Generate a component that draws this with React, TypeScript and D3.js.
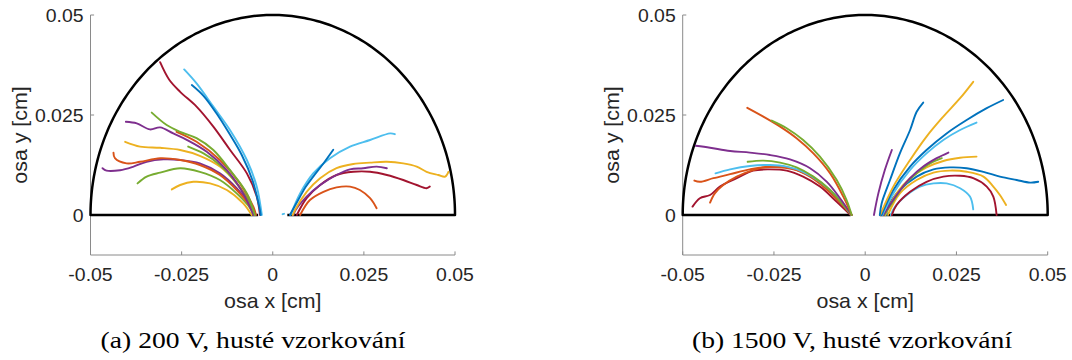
import React from "react";
import * as d3 from "d3";

type Pt = [number, number];

// ---- tick labels ----
const X_TICKS = [-0.05, -0.025, 0, 0.025, 0.05];
const X_TICK_LABELS = ["-0.05", "-0.025", "0", "0.025", "0.05"];
const Y_TICKS = [0, 0.025, 0.05];
const Y_TICK_LABELS = ["0", "0.025", "0.05"];
const X_LABEL = "osa x [cm]";
const Y_LABEL = "osa y [cm]";
const CAPTIONS = ["(a) 200 V, husté vzorkování", "(b) 1500 V, husté vzorkování"];
const RADIUS = 0.05;
const GAP = 0.004;

// ---- panel (a) trajectories ----
const aRed1: Pt[] = [[-0.0309,0.0382],[-0.0284,0.0338],[-0.0254,0.0308],[-0.0209,0.0271],[-0.0163,0.0221],[-0.0117,0.01625],[-0.0071,0.0104],[-0.0044,0.0046],[-0.0035,0]];
const aCyan1: Pt[] = [[-0.0243,0.0364],[-0.0209,0.0329],[-0.0163,0.0271],[-0.0117,0.0212],[-0.0071,0.01375],[-0.0044,0.0071],[-0.003,0]];
const aBlue1: Pt[] = [[-0.0222,0.0325],[-0.019,0.0298],[-0.0155,0.0255],[-0.012,0.0205],[-0.0085,0.015],[-0.0055,0.0085],[-0.0038,0.0025],[-0.0033,0]];
const aGreen1: Pt[] = [[-0.0332,0.0256],[-0.0291,0.0225],[-0.0254,0.0208],[-0.0209,0.0192],[-0.0163,0.01625],[-0.0117,0.0112],[-0.0071,0.0054],[-0.0049,0]];
const aPurple1: Pt[] = [[-0.0403,0.0233],[-0.0373,0.0229],[-0.0337,0.0214],[-0.0309,0.0219],[-0.0273,0.0204],[-0.0236,0.0188],[-0.0181,0.0158],[-0.0126,0.0112],[-0.0081,0.0054],[-0.0053,0]];
const aOrange1: Pt[] = [[-0.0264,0.0208],[-0.0209,0.0183],[-0.0145,0.01375],[-0.009,0.0079],[-0.0053,0.002],[-0.0046,0]];
const aGreen2: Pt[] = [[-0.0232,0.0171],[-0.019,0.0154],[-0.0145,0.0125],[-0.0099,0.0079],[-0.0062,0.0029],[-0.0049,0]];
const aYellow1: Pt[] = [[-0.0405,0.0183],[-0.0364,0.0171],[-0.0309,0.0168],[-0.0254,0.01625],[-0.02,0.0148],[-0.0145,0.0121],[-0.0099,0.0079],[-0.0062,0.0029],[-0.0053,0]];
const aOrange2: Pt[] = [[-0.0437,0.0156],[-0.0433,0.0142],[-0.0401,0.0129],[-0.0364,0.0133],[-0.0309,0.0142],[-0.0254,0.01375],[-0.02,0.0125],[-0.0145,0.01],[-0.0099,0.00625],[-0.0062,0.0022],[-0.005,0]];
const aPurple2: Pt[] = [[-0.0467,0.0117],[-0.0456,0.0111],[-0.0419,0.0112],[-0.0382,0.0121],[-0.0346,0.0133],[-0.03,0.0139],[-0.0254,0.01375],[-0.02,0.0129],[-0.0145,0.0104],[-0.0099,0.0067],[-0.0062,0.0025],[-0.0047,0]];
const aGreen3: Pt[] = [[-0.0371,0.0079],[-0.0346,0.0096],[-0.0309,0.0106],[-0.0254,0.0117],[-0.02,0.0108],[-0.0145,0.00875],[-0.0099,0.0054],[-0.0062,0.0017],[-0.0053,0]];
const aYellow2: Pt[] = [[-0.0277,0.0064],[-0.0254,0.0075],[-0.0218,0.0083],[-0.0172,0.0079],[-0.0126,0.00625],[-0.0081,0.0029],[-0.0058,0]];
const aBlue2: Pt[] = [[0.0166,0.0163],[0.014,0.013],[0.0111,0.0096],[0.009,0.007],[0.0075,0.0046],[0.0047,0]];
const aCyan2: Pt[] = [[0.0335,0.0202],[0.0322,0.0204],[0.0267,0.01875],[0.0212,0.0171],[0.0157,0.0142],[0.0111,0.0104],[0.0075,0.0054],[0.0049,0]];
const aCyanDot: Pt[] = [[0.0027,0.0002],[0.0031,0.0003]];
const aYellow3: Pt[] = [[0.0482,0.0108],[0.0473,0.0096],[0.0454,0.01],[0.0422,0.0108],[0.0395,0.0121],[0.0358,0.0129],[0.0313,0.0133],[0.0267,0.0131],[0.0221,0.01275],[0.0175,0.0117],[0.013,0.0092],[0.0093,0.0058],[0.0061,0.00125],[0.0055,0]];
const aPurple3: Pt[] = [[0.0313,0.0117],[0.0285,0.0121],[0.0248,0.0117],[0.0212,0.0114],[0.0175,0.01],[0.013,0.0075],[0.0093,0.0046],[0.0061,0.001],[0.0057,0]];
const aRed2: Pt[] = [[0.0431,0.0071],[0.0422,0.0067],[0.0395,0.0075],[0.0358,0.00875],[0.0313,0.01],[0.0267,0.0108],[0.0221,0.0108],[0.0175,0.01],[0.013,0.0075],[0.0093,0.0042],[0.0066,0]];
const aOrange3: Pt[] = [[0.0285,0.0017],[0.0267,0.0042],[0.0239,0.00625],[0.0212,0.0071],[0.0175,0.0069],[0.0139,0.0058],[0.0102,0.00375],[0.0075,0]];

// ---- panel (b) trajectories ----
const bOrange1: Pt[] = [[-0.0323,0.0268],[-0.0279,0.0246],[-0.0233,0.0221],[-0.0188,0.0192],[-0.0142,0.0154],[-0.0096,0.0104],[-0.006,0.0046],[-0.0037,0]];
const bGreen1: Pt[] = [[-0.0256,0.0236],[-0.0215,0.0217],[-0.017,0.01875],[-0.0124,0.0146],[-0.0078,0.00875],[-0.0051,0.00375],[-0.0037,0]];
const bPurple1: Pt[] = [[-0.0464,0.0173],[-0.0425,0.0168],[-0.037,0.016],[-0.0316,0.0156],[-0.0261,0.015],[-0.0206,0.0139],[-0.0151,0.0117],[-0.0105,0.0083],[-0.0069,0.0042],[-0.0037,0]];
const bGreen2: Pt[] = [[-0.0322,0.0133],[-0.0279,0.0136],[-0.0233,0.0131],[-0.0188,0.0119],[-0.0142,0.0096],[-0.0096,0.00625],[-0.006,0.0025],[-0.0038,0]];
const bCyan1: Pt[] = [[-0.041,0.0104],[-0.037,0.0114],[-0.0316,0.01225],[-0.0261,0.0125],[-0.0215,0.0121],[-0.017,0.0108],[-0.0124,0.0083],[-0.0078,0.0046],[-0.0038,0]];
const bOrange2: Pt[] = [[-0.0468,0.0086],[-0.0453,0.0083],[-0.0416,0.0092],[-0.037,0.0102],[-0.0316,0.0114],[-0.0261,0.012],[-0.0188,0.01125],[-0.0133,0.00875],[-0.0078,0.0042],[-0.0038,0]];
const bOrange3: Pt[] = [[-0.0425,0.0031],[-0.0412,0.0054],[-0.0389,0.0075],[-0.0352,0.0096],[-0.0307,0.0112],[-0.0261,0.0122],[-0.0206,0.0118],[-0.015,0.0095],[-0.0095,0.0055],[-0.0037,0]];
const bRed1: Pt[] = [[-0.0473,0.0021],[-0.0453,0.0042],[-0.0425,0.005],[-0.0398,0.0071],[-0.0352,0.0092],[-0.0307,0.0111],[-0.0261,0.0114],[-0.0215,0.0111],[-0.017,0.0096],[-0.0124,0.0071],[-0.0078,0.0033],[-0.004,0]];
const bPurple2: Pt[] = [[0.0073,0.01625],[0.0054,0.0113],[0.0036,0.0054],[0.0024,0]];
const bBlue1: Pt[] = [[0.0159,0.0281],[0.0141,0.0258],[0.0123,0.02125],[0.0095,0.0154],[0.0068,0.00875],[0.0045,0.0029],[0.004,0]];
const bYellow1: Pt[] = [[0.0296,0.0333],[0.026,0.0292],[0.0214,0.0246],[0.0168,0.0196],[0.0123,0.01375],[0.0077,0.0071],[0.0041,0]];
const bBlue2: Pt[] = [[0.0378,0.02875],[0.0333,0.0267],[0.0278,0.02375],[0.0223,0.0204],[0.0168,0.01625],[0.0123,0.0121],[0.0077,0.00625],[0.0045,0]];
const bCyan2: Pt[] = [[0.0305,0.0231],[0.026,0.02125],[0.0214,0.01875],[0.0168,0.0154],[0.0123,0.01125],[0.0077,0.0054],[0.0047,0]];
const bPurple3: Pt[] = [[0.0228,0.0156],[0.0196,0.0142],[0.0159,0.0121],[0.0123,0.0092],[0.0086,0.005],[0.005,0]];
const bGreen3: Pt[] = [[0.021,0.0142],[0.0178,0.0129],[0.0141,0.0104],[0.0104,0.0071],[0.0073,0.0029],[0.0052,0]];
const bYellow2: Pt[] = [[0.0305,0.0146],[0.026,0.0143],[0.0214,0.0135],[0.0168,0.0119],[0.0123,0.0092],[0.0086,0.0054],[0.0055,0]];
const bBlue3: Pt[] = [[0.0474,0.0083],[0.0452,0.0081],[0.0415,0.00875],[0.0369,0.0096],[0.0324,0.0108],[0.0278,0.0117],[0.0232,0.0119],[0.0187,0.0114],[0.0141,0.0096],[0.0095,0.00625],[0.0063,0.0021],[0.0058,0]];
const bYellow3: Pt[] = [[0.0386,0.0025],[0.0369,0.005],[0.0351,0.0071],[0.0324,0.0096],[0.0278,0.0108],[0.0232,0.0111],[0.0187,0.0106],[0.0141,0.00875],[0.0095,0.0054],[0.0062,0]];
const bRed2: Pt[] = [[0.036,0],[0.0351,0.0046],[0.0333,0.0071],[0.0296,0.0092],[0.026,0.0098],[0.0214,0.0096],[0.0168,0.0083],[0.0123,0.0058],[0.0086,0.0025],[0.0073,0]];
const bCyan3: Pt[] = [[0.0296,0.0014],[0.0287,0.0046],[0.026,0.0067],[0.0223,0.0079],[0.0187,0.0079],[0.015,0.0071],[0.0114,0.005],[0.0082,0.0021],[0.007,0]];

const C = {
  blue: "#0072BD", orange: "#D95319", yellow: "#EDB120", purple: "#7E2F8E",
  green: "#77AC30", cyan: "#4DBEEE", red: "#A2142F",
};

const SERIES_A: { pts: Pt[]; color: string }[] = [
  { pts: aYellow2, color: C.yellow }, { pts: aGreen3, color: C.green },
  { pts: aPurple2, color: C.purple }, { pts: aOrange2, color: C.orange },
  { pts: aYellow1, color: C.yellow }, { pts: aGreen2, color: C.green },
  { pts: aOrange1, color: C.orange }, { pts: aPurple1, color: C.purple },
  { pts: aGreen1, color: C.green }, { pts: aRed1, color: C.red },
  { pts: aCyan1, color: C.cyan }, { pts: aBlue1, color: C.blue },
  { pts: aOrange3, color: C.orange }, { pts: aRed2, color: C.red },
  { pts: aPurple3, color: C.purple }, { pts: aYellow3, color: C.yellow },
  { pts: aCyan2, color: C.cyan }, { pts: aBlue2, color: C.blue },
  { pts: aCyanDot, color: C.cyan },
];
const SERIES_B: { pts: Pt[]; color: string }[] = [
  { pts: bRed1, color: C.red }, { pts: bOrange3, color: C.orange },
  { pts: bOrange2, color: C.orange }, { pts: bCyan1, color: C.cyan },
  { pts: bGreen2, color: C.green }, { pts: bPurple1, color: C.purple },
  { pts: bOrange1, color: C.orange }, { pts: bGreen1, color: C.green },
  { pts: bCyan3, color: C.cyan }, { pts: bRed2, color: C.red },
  { pts: bYellow3, color: C.yellow }, { pts: bBlue3, color: C.blue },
  { pts: bYellow2, color: C.yellow }, { pts: bGreen3, color: C.green },
  { pts: bPurple3, color: C.purple }, { pts: bCyan2, color: C.cyan },
  { pts: bBlue2, color: C.blue }, { pts: bYellow1, color: C.yellow },
  { pts: bBlue1, color: C.blue }, { pts: bPurple2, color: C.purple },
];

const PANELS = [
  { x0: 90.5, x1: 455, capX: 253, series: SERIES_A, caption: CAPTIONS[0] },
  { x0: 682.7, x1: 1047.7, capX: 852, series: SERIES_B, caption: CAPTIONS[1] },
];

const Y_TOP = 15;
const Y_BOT = 255;
const SANS = "'Liberation Sans', Arial, Helvetica, sans-serif";
const SERIF = "'Liberation Serif', serif";
const AXIS_COLOR = "#8a8a8a";
const TEXT_COLOR = "#262626";
const FS = 18;
const LABEL_FS = 19.8;
const SX = 1.08;

function SText({ x, y, anchor, rotate, size, children }: { x: number; y: number; anchor: string; rotate?: number; size: number; children: React.ReactNode }) {
  const tr = `translate(${x},${y})${rotate ? ` rotate(${rotate})` : ""} scale(${SX},1)`;
  return (
    <text transform={tr} textAnchor={anchor} fontFamily={SANS} fontSize={size} fill={TEXT_COLOR}>
      {children}
    </text>
  );
}

function Panel({ p }: { p: typeof PANELS[number] }) {
  const x = d3.scaleLinear().domain([-0.05, 0.05]).range([p.x0, p.x1]);
  const y = d3.scaleLinear().domain([-0.01, 0.05]).range([Y_BOT, Y_TOP]);
  const line = d3
    .line<Pt>()
    .x((d) => x(d[0]))
    .y((d) => y(d[1]))
    .curve(d3.curveCatmullRom.alpha(0.5));
  const lin = d3.line<Pt>().x((d) => x(d[0])).y((d) => y(d[1]));
  const arcPts: Pt[] = [[GAP, 0], [RADIUS, 0]];
  d3.range(0, 181).forEach((deg) => {
    const t = (deg * Math.PI) / 180;
    arcPts.push([RADIUS * Math.cos(t), RADIUS * Math.sin(t)]);
  });
  arcPts.push([-GAP, 0]);
  const tickLen = 3.6;
  return (
    <g>
      <line x1={p.x0} x2={p.x0} y1={y(0.05)} y2={Y_BOT} stroke={AXIS_COLOR} strokeWidth={1} />
      <line x1={p.x0} x2={p.x1} y1={Y_BOT} y2={Y_BOT} stroke={AXIS_COLOR} strokeWidth={1} />
      {X_TICKS.map((t, i) => (
        <g key={"xt" + i}>
          <line x1={x(t)} x2={x(t)} y1={Y_BOT} y2={Y_BOT - tickLen} stroke={AXIS_COLOR} strokeWidth={1} />
          <SText x={x(t)} y={280.5} anchor="middle" size={FS}>{X_TICK_LABELS[i]}</SText>
        </g>
      ))}
      {Y_TICKS.map((t, i) => (
        <g key={"yt" + i}>
          <line x1={p.x0} x2={p.x0 + tickLen} y1={y(t)} y2={y(t)} stroke={AXIS_COLOR} strokeWidth={1} />
          <SText x={p.x0 - 7} y={y(t) + 6.5} anchor="end" size={FS}>{Y_TICK_LABELS[i]}</SText>
        </g>
      ))}
      <SText x={x(0)} y={308} anchor="middle" size={LABEL_FS}>{X_LABEL}</SText>
      <SText x={p.x0 - 64} y={(Y_TOP + Y_BOT) / 2} anchor="middle" rotate={-90} size={LABEL_FS}>{Y_LABEL}</SText>
      <path d={lin(arcPts) || ""} fill="none" stroke="#000" strokeWidth={2.5} strokeLinejoin="round" />
      {p.series.map((s, i) => (
        <path key={i} d={line(s.pts) || ""} fill="none" stroke={s.color} strokeWidth={1.9} strokeLinecap="round" strokeLinejoin="round" />
      ))}
      <text
        transform={`translate(${p.capX},348) scale(1.15,1)`}
        textAnchor="middle"
        fontFamily={SERIF}
        fontSize={24}
        fill="#000"
      >
        {p.caption}
      </text>
    </g>
  );
}

export default function App() {
  return (
    <svg
      width={1072}
      height={360}
      viewBox="0 0 1072 360"
      style={{ position: "absolute", left: 0, top: 0, background: "#fff" }}
    >
      <rect width={1072} height={360} fill="#fff" />
      {PANELS.map((p, i) => (
        <Panel key={i} p={p} />
      ))}
    </svg>
  );
}
